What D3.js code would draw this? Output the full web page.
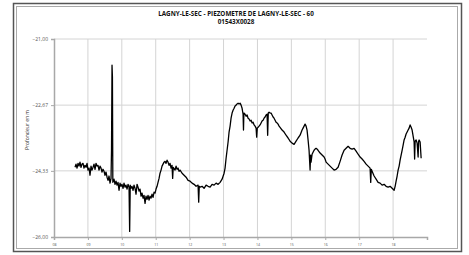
<!DOCTYPE html>
<html>
<head>
<meta charset="utf-8">
<script src="https://cdn.jsdelivr.net/npm/d3@7"></script>
<style>
  body { margin: 0; background: #fff; }
  svg { display: block; }
</style>
</head>
<body>
<svg id="chart"></svg>
<script>
const width = 469;
const height = 255;

const titleLines = ["LAGNY-LE-SEC - PIEZOMETRE DE LAGNY-LE-SEC - 60", "01543X0028"];
const yTicks = [-21.00, -22.67, -24.33, -26.00];
const xTicks = [2008, 2009, 2010, 2011, 2012, 2013, 2014, 2015, 2016, 2017, 2018];

// dates in decimal years
const years = [
  2008.620, 2008.649, 2008.679, 2008.708, 2008.738, 2008.767, 2008.797, 2008.826, 2008.856, 2008.885,
  2008.915, 2008.944, 2008.974, 2009.003, 2009.033, 2009.062, 2009.092, 2009.121, 2009.151, 2009.180,
  2009.210, 2009.239, 2009.269, 2009.298, 2009.328, 2009.357, 2009.387, 2009.416, 2009.446, 2009.475,
  2009.505, 2009.534, 2009.564, 2009.593, 2009.623, 2009.652, 2009.682, 2009.696, 2009.711, 2009.723,
  2009.735, 2009.770, 2009.800, 2009.829, 2009.859, 2009.888, 2009.918, 2009.947, 2009.977, 2010.006,
  2010.036, 2010.065, 2010.095, 2010.124, 2010.154, 2010.183, 2010.213, 2010.231, 2010.248, 2010.272,
  2010.301, 2010.331, 2010.360, 2010.390, 2010.419, 2010.449, 2010.478, 2010.508, 2010.537, 2010.567,
  2010.596, 2010.626, 2010.655, 2010.685, 2010.714, 2010.744, 2010.773, 2010.803, 2010.832, 2010.862,
  2010.891, 2010.921, 2010.950, 2010.980, 2011.009, 2011.039, 2011.068, 2011.098, 2011.127, 2011.157,
  2011.186, 2011.216, 2011.245, 2011.275, 2011.304, 2011.334, 2011.363, 2011.393, 2011.422, 2011.452,
  2011.481, 2011.499, 2011.516, 2011.570, 2011.600, 2011.629, 2011.659, 2011.688, 2011.718, 2011.777,
  2011.836, 2011.895, 2011.954, 2012.013, 2012.072, 2012.131, 2012.190, 2012.249, 2012.267, 2012.284,
  2012.308, 2012.367, 2012.426, 2012.485, 2012.544, 2012.603, 2012.662, 2012.721, 2012.780, 2012.839,
  2012.898, 2012.957, 2013.016, 2013.045, 2013.075, 2013.104, 2013.134, 2013.163, 2013.193, 2013.222,
  2013.252, 2013.281, 2013.311, 2013.340, 2013.370, 2013.399, 2013.429, 2013.458, 2013.488, 2013.517,
  2013.547, 2013.576, 2013.588, 2013.600, 2013.635, 2013.665, 2013.694, 2013.724, 2013.753, 2013.783,
  2013.812, 2013.842, 2013.871, 2013.901, 2013.930, 2013.960, 2013.977, 2013.995, 2014.018, 2014.048,
  2014.077, 2014.107, 2014.136, 2014.166, 2014.195, 2014.225, 2014.254, 2014.284, 2014.301, 2014.319,
  2014.343, 2014.372, 2014.402, 2014.431, 2014.461, 2014.490, 2014.520, 2014.549, 2014.579, 2014.608,
  2014.638, 2014.667, 2014.726, 2014.785, 2014.844, 2014.903, 2014.962, 2015.021, 2015.080, 2015.139,
  2015.198, 2015.257, 2015.316, 2015.345, 2015.375, 2015.404, 2015.434, 2015.463, 2015.493, 2015.522,
  2015.552, 2015.567, 2015.581, 2015.611, 2015.640, 2015.670, 2015.699, 2015.729, 2015.758, 2015.788,
  2015.847, 2015.906, 2015.965, 2015.994, 2016.024, 2016.083, 2016.142, 2016.201, 2016.260, 2016.319,
  2016.378, 2016.437, 2016.496, 2016.555, 2016.614, 2016.673, 2016.732, 2016.791, 2016.850, 2016.909,
  2016.968, 2017.027, 2017.086, 2017.145, 2017.204, 2017.263, 2017.322, 2017.340, 2017.357, 2017.381,
  2017.440, 2017.499, 2017.558, 2017.617, 2017.676, 2017.735, 2017.794, 2017.853, 2017.912, 2017.971,
  2018.030, 2018.060, 2018.089, 2018.119, 2018.148, 2018.178, 2018.207, 2018.237, 2018.266, 2018.296,
  2018.325, 2018.355, 2018.384, 2018.414, 2018.443, 2018.473, 2018.502, 2018.532, 2018.561, 2018.591,
  2018.620, 2018.635, 2018.650, 2018.679, 2018.709, 2018.738, 2018.753, 2018.768, 2018.797, 2018.827
];

// depth in m
const depths = [
  -24.24, -24.16, -24.26, -24.14, -24.21, -24.11, -24.24, -24.16, -24.14, -24.26,
  -24.19, -24.24, -24.14, -24.31, -24.26, -24.44, -24.21, -24.31, -24.24, -24.16,
  -24.29, -24.14, -24.21, -24.19, -24.31, -24.21, -24.26, -24.36, -24.29, -24.34,
  -24.44, -24.36, -24.49, -24.57, -24.46, -24.64, -24.52, -23.81, -21.66, -21.96,
  -24.62, -24.54, -24.67, -24.59, -24.69, -24.62, -24.82, -24.64, -24.72, -24.67,
  -24.77, -24.64, -24.74, -24.69, -24.79, -24.67, -24.74, -25.86, -24.69, -24.77,
  -24.72, -24.82, -24.69, -24.77, -24.92, -24.67, -24.74, -24.84, -24.79, -24.97,
  -24.89, -25.02, -24.95, -25.15, -24.97, -25.05, -24.95, -25.07, -24.97, -25.02,
  -24.92, -25.00, -24.87, -24.89, -24.79, -24.72, -24.62, -24.52, -24.39, -24.31,
  -24.21, -24.16, -24.11, -24.09, -24.14, -24.06, -24.11, -24.19, -24.14, -24.26,
  -24.19, -24.52, -24.24, -24.31, -24.21, -24.29, -24.26, -24.34, -24.31, -24.39,
  -24.44, -24.49, -24.57, -24.59, -24.64, -24.67, -24.72, -24.69, -25.12, -24.72,
  -24.74, -24.72, -24.77, -24.69, -24.72, -24.74, -24.67, -24.69, -24.64, -24.67,
  -24.62, -24.54, -24.39, -24.26, -24.01, -23.81, -23.60, -23.35, -23.20, -23.00,
  -22.87, -22.80, -22.75, -22.69, -22.67, -22.64, -22.62, -22.64, -22.62, -22.67,
  -22.75, -22.90, -23.30, -22.87, -22.90, -22.95, -22.92, -23.00, -23.02, -23.07,
  -23.05, -23.12, -23.10, -23.17, -23.20, -23.25, -23.48, -23.25, -23.23, -23.20,
  -23.17, -23.12, -23.07, -23.05, -23.00, -22.97, -22.92, -22.90, -23.43, -22.87,
  -22.85, -22.87, -22.87, -22.92, -22.97, -23.00, -23.05, -23.10, -23.12, -23.15,
  -23.20, -23.23, -23.30, -23.35, -23.43, -23.50, -23.58, -23.63, -23.66, -23.58,
  -23.50, -23.43, -23.30, -23.25, -23.20, -23.15, -23.20, -23.30, -23.55, -23.81,
  -24.31, -23.93, -24.11, -23.91, -23.86, -23.81, -23.78, -23.76, -23.78, -23.81,
  -23.88, -23.93, -23.98, -24.03, -24.11, -24.16, -24.21, -24.26, -24.31, -24.29,
  -24.24, -24.09, -23.93, -23.81, -23.76, -23.71, -23.76, -23.78, -23.76, -23.83,
  -23.91, -23.98, -24.03, -24.09, -24.16, -24.21, -24.26, -24.62, -24.29, -24.34,
  -24.46, -24.54, -24.62, -24.64, -24.69, -24.67, -24.72, -24.74, -24.72, -24.77,
  -24.82, -24.72, -24.59, -24.46, -24.31, -24.21, -24.06, -23.93, -23.81, -23.68,
  -23.55, -23.48, -23.40, -23.35, -23.30, -23.25, -23.17, -23.23, -23.30, -23.45,
  -23.60, -24.03, -23.58, -23.55, -23.63, -23.98, -23.58, -23.55, -23.60, -24.01
];

const margin = { top: 39, right: 42, bottom: 18, left: 54 };

const svg = d3.select('#chart')
    .attr('width', width)
    .attr('height', height);

// double frame
svg.append('rect')
    .attr('x', 13.5).attr('y', 3.5)
    .attr('width', 448).attr('height', 248)
    .attr('fill', 'none').attr('stroke', '#555').attr('stroke-width', 1.5);
svg.append('rect')
    .attr('x', 16.5).attr('y', 6.5)
    .attr('width', 441).attr('height', 242)
    .attr('fill', 'none').attr('stroke', '#aaa').attr('stroke-width', 1);

const x = d3.scaleLinear()
    .domain([2008, 2019])
    .range([margin.left, width - margin.right]);

const y = d3.scaleLinear()
    .domain([-26, -21])
    .range([height - margin.bottom, margin.top]);

// grid
svg.append('g')
    .attr('stroke', '#d4d4d4')
    .attr('stroke-width', 1)
    .selectAll('line')
    .data(xTicks.slice(1))
    .join('line')
    .attr('x1', d => x(d)).attr('x2', d => x(d))
    .attr('y1', y(-21)).attr('y2', y(-26));

svg.append('g')
    .attr('stroke', '#d4d4d4')
    .attr('stroke-width', 1)
    .selectAll('line')
    .data(yTicks.slice(0, 3))
    .join('line')
    .attr('x1', x(2008)).attr('x2', x(2019))
    .attr('y1', d => y(d)).attr('y2', d => y(d));

const yAxis = svg.append('g')
    .attr('transform', `translate(${margin.left},0)`)
    .call(d3.axisLeft(y).tickValues(yTicks).tickSize(3)
        .tickFormat(d => d3.format('.2f')(d).replace('.', ',')));

const xAxis = svg.append('g')
    .attr('transform', `translate(0,${y(-26)})`)
    .call(d3.axisBottom(x).tickValues(xTicks).tickSize(3)
        .tickFormat(d => String(d).slice(2)));

[yAxis, xAxis].forEach(a => {
    a.select('.domain').attr('stroke', '#a8a8a8').attr('stroke-width', 1.5);
    a.selectAll('.tick line').attr('stroke', '#a8a8a8');
    a.selectAll('text').attr('fill', '#555').attr('font-family', 'Open Sans, sans-serif');
});
yAxis.selectAll('text').attr('font-size', 5);
xAxis.selectAll('text').attr('font-size', 3.5).attr('dy', '0.9em');

// series
const points = years.map((d, i) => [d, depths[i]]);
svg.append('path')
    .datum(points)
    .attr('fill', 'none')
    .attr('stroke', '#000')
    .attr('stroke-width', 1.3)
    .attr('stroke-linejoin', 'round')
    .attr('d', d3.line().x(d => x(d[0])).y(d => y(d[1])));

// title
svg.append('g')
    .selectAll('text')
    .data(titleLines)
    .join('text')
    .attr('x', 236)
    .attr('y', (d, i) => 16 + i * 7.5)
    .attr('text-anchor', 'middle')
    .attr('font-family', 'Open Sans, sans-serif')
    .attr('font-weight', 'bold')
    .attr('font-size', 6.3)
    .attr('fill', '#111')
    .text(d => d);

svg.append('text')
    .attr('transform', `translate(29,${(y(-21) + y(-26)) / 2 - 8}) rotate(-90)`)
    .attr('text-anchor', 'middle')
    .attr('font-family', 'Open Sans, sans-serif')
    .attr('font-size', 5)
    .attr('fill', '#333')
    .text('Profondeur en m');
</script>
</body>
</html>
